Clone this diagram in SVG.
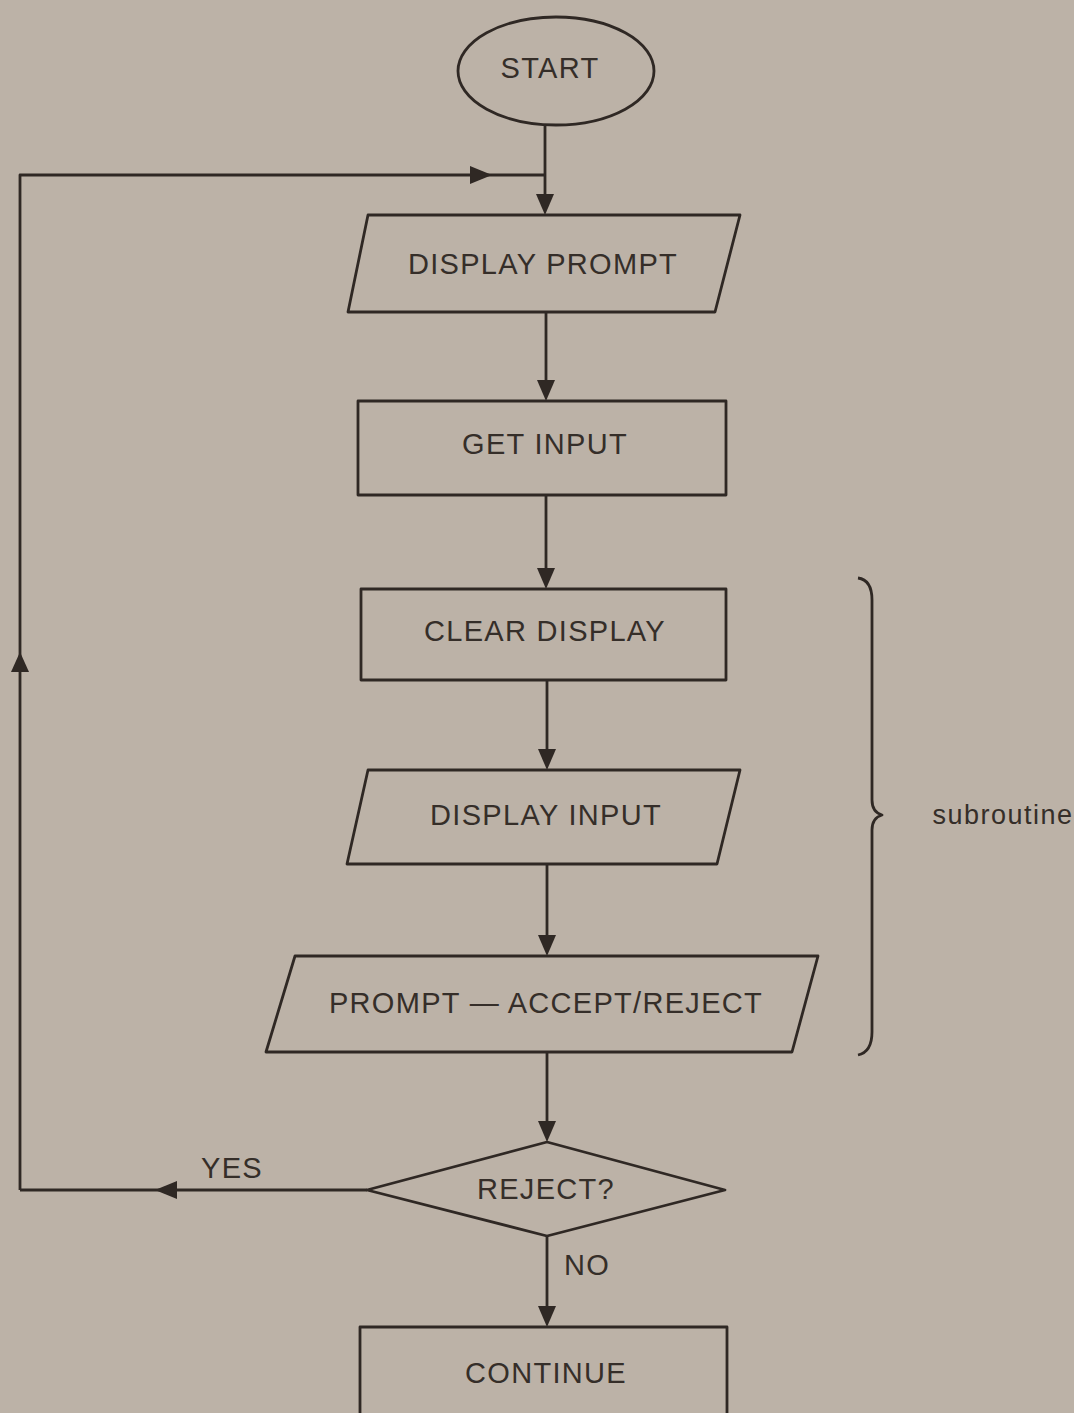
<svg xmlns="http://www.w3.org/2000/svg" width="1074" height="1413" viewBox="0 0 1074 1413">
<defs>
<style>
.s{fill:none;stroke:#2f2824;stroke-width:2.8;stroke-linejoin:round}
.a{fill:#2f2824;stroke:none}
.t{font-family:"Liberation Sans",Arial,sans-serif;font-size:29px;letter-spacing:1.3px;fill:#352e29;text-anchor:middle;dominant-baseline:central}
</style>
</defs>
<rect width="1074" height="1413" fill="#bcb2a7"/>
<g id="connectors">
<path class="s" d="M545,125 V205"/>
<path class="a" d="M536,194 L554,194 L545,215 Z"/>
<path class="s" d="M20,1190 V175 H545"/>
<path class="a" d="M470,166 L492,175 L470,184 Z"/>
<path class="a" d="M11,672 L20,652 L29,672 Z"/>
<path class="s" d="M546,312 V392"/>
<path class="a" d="M537,380 L555,380 L546,401 Z"/>
<path class="s" d="M546,495 V580"/>
<path class="a" d="M537,568 L555,568 L546,589 Z"/>
<path class="s" d="M547,680 V760"/>
<path class="a" d="M538,749 L556,749 L547,770 Z"/>
<path class="s" d="M547,864 V946"/>
<path class="a" d="M538,935 L556,935 L547,956 Z"/>
<path class="s" d="M547,1052 V1132"/>
<path class="a" d="M538,1121 L556,1121 L547,1142 Z"/>
<path class="s" d="M367,1190 H20"/>
<path class="a" d="M177,1181 L155,1190 L177,1199 Z"/>
<path class="s" d="M547,1236 V1317"/>
<path class="a" d="M538,1306 L556,1306 L547,1327 Z"/>
<path class="s" d="M858,578 Q872,580 872,600 V800 Q872,812 882,815 Q872,818 872,830 V1032 Q872,1052 858,1055"/>
</g>
<g id="start">
<ellipse class="s" cx="556" cy="71" rx="98" ry="54"/>
<text class="t" x="550" y="68">START</text>
</g>
<g id="display-prompt">
<path class="s" d="M368,215 H740 L715,312 H348 Z"/>
<text class="t" x="543" y="264">DISPLAY PROMPT</text>
</g>
<g id="get-input">
<rect class="s" x="358" y="401" width="368" height="94"/>
<text class="t" x="545" y="444">GET INPUT</text>
</g>
<g id="clear-display">
<rect class="s" x="361" y="589" width="365" height="91"/>
<text class="t" x="545" y="631">CLEAR DISPLAY</text>
</g>
<g id="display-input">
<path class="s" d="M368,770 H740 L717,864 H347 Z"/>
<text class="t" x="546" y="815">DISPLAY INPUT</text>
</g>
<g id="prompt-accept-reject">
<path class="s" d="M295,956 H818 L792,1052 H266 Z"/>
<text class="t" x="546" y="1003">PROMPT — ACCEPT/REJECT</text>
</g>
<g id="reject">
<path class="s" d="M367,1190 L547,1142 L725,1190 L547,1236 Z"/>
<text class="t" x="546" y="1189">REJECT?</text>
</g>
<g id="continue">
<rect class="s" x="360" y="1327" width="367" height="100"/>
<text class="t" x="546" y="1373">CONTINUE</text>
</g>
<g id="labels">
<text class="t" x="232" y="1168">YES</text>
<text class="t" x="587" y="1265">NO</text>
<text class="t" x="1003" y="815" style="font-size:27px;letter-spacing:1.5px">subroutine</text>
</g>
</svg>
